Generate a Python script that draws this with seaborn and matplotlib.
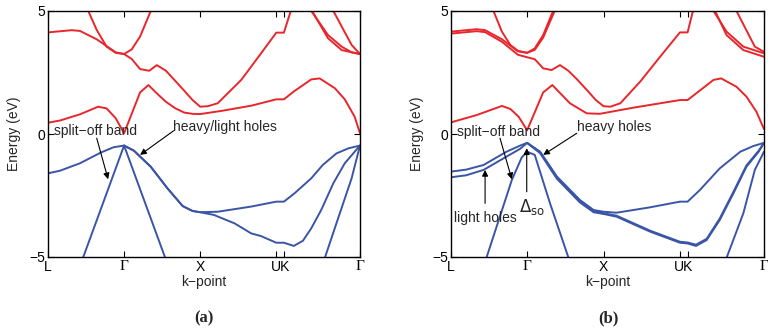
import numpy as np
import pandas as pd
import matplotlib
matplotlib.use("Agg")
import matplotlib.pyplot as plt
import seaborn as sns

# ---------------- data ----------------
kticks = [0, 1, 2, 3, 3.1, 4.1]
klabels = ["L", "\u0393", "X", "", "", "\u0393"]
uk_pos = [3.05]
uk_label = ["UK"]

# Panel (a): conduction bands
a_cb1_k = [0, 0.16, 0.42, 0.66, 0.77, 0.89, 1.0, 1.21, 1.32, 1.43, 1.55, 1.67, 1.79, 1.90, 2.0, 2.3, 2.67, 3.0, 3.1, 3.24, 3.46, 3.57, 3.77, 3.90, 4.03, 4.1]
a_cb1_E = [0.46, 0.55, 0.80, 1.11, 1.04, 0.64, 0.03, 1.69, 1.99, 1.65, 1.31, 1.05, 0.87, 0.82, 0.81, 0.95, 1.15, 1.41, 1.41, 1.75, 2.22, 2.26, 1.86, 1.41, 0.70, 0.03]
a_cb2_k = [0, 0.31, 0.42, 0.64, 0.89, 1.0, 1.10, 1.21, 1.33, 1.43, 1.55, 1.66, 1.79, 1.90, 2.0, 2.1, 2.23, 2.54, 2.80, 3.0, 3.1, 3.19, 3.25]
a_cb2_E = [4.13, 4.22, 4.19, 3.85, 3.32, 3.25, 3.05, 2.64, 2.57, 2.80, 2.57, 2.20, 1.76, 1.38, 1.11, 1.13, 1.25, 2.20, 3.28, 4.12, 4.12, 5.0, 5.6]
a_cb3_k = [0.50, 0.53, 0.64, 0.77, 0.89, 1.0, 1.10, 1.21, 1.35, 1.38]
a_cb3_E = [5.4, 5.0, 4.23, 3.55, 3.30, 3.25, 3.44, 3.96, 5.0, 5.3]
a_cb4_k = [3.44, 3.46, 3.68, 3.86, 3.99, 4.1]
a_cb4_E = [5.3, 5.0, 4.02, 3.55, 3.32, 3.25]
a_cb5_k = [3.45, 3.47, 3.68, 3.86, 4.1]
a_cb5_E = [5.3, 5.0, 3.89, 3.41, 3.25]
a_cb6_k = [3.73, 3.75, 3.99, 4.1]
a_cb6_E = [5.3, 5.0, 3.62, 3.25]

# Panel (a): valence bands
a_vb1_k = [0, 0.16, 0.42, 0.69, 0.86, 1.0, 1.13, 1.35, 1.57, 1.77, 1.90, 2.0, 2.23, 2.67, 3.0, 3.1, 3.24, 3.46, 3.61, 3.79, 3.95, 4.1]
a_vb1_E = [-1.60, -1.49, -1.19, -0.76, -0.54, -0.47, -0.68, -1.33, -2.21, -2.93, -3.13, -3.18, -3.16, -2.95, -2.75, -2.75, -2.41, -1.80, -1.26, -0.79, -0.58, -0.47]
a_vb2_k = [1.0, 1.13, 1.35, 1.57, 1.77, 1.90, 2.0, 2.18, 2.45, 2.67, 2.80, 3.0, 3.1, 3.23, 3.35, 3.46, 3.59, 3.75, 3.90, 4.03, 4.1]
a_vb2_E = [-0.47, -0.68, -1.33, -2.21, -2.93, -3.13, -3.18, -3.29, -3.63, -4.04, -4.15, -4.42, -4.42, -4.55, -4.34, -3.83, -3.09, -2.0, -1.19, -0.72, -0.47]
a_so1_k = [0.44, 1.0, 1.56]
a_so1_E = [-5.2, -0.47, -5.2]
a_so2_k = [3.62, 3.81, 3.99, 4.06, 4.1]
a_so2_E = [-5.2, -3.45, -1.80, -0.95, -0.47]

# Panel (b): conduction bands
b_cb1_k = [0, 0.34, 0.67, 0.78, 0.89, 1.0, 1.21, 1.33, 1.56, 1.78, 1.95, 2.39, 3.0, 3.1, 3.44, 3.54, 3.74, 3.87, 4.0, 4.1]
b_cb1_E = [0.47, 0.77, 1.14, 1.02, 0.70, 0.15, 1.69, 1.99, 1.25, 0.84, 0.82, 1.07, 1.38, 1.38, 2.20, 2.26, 1.92, 1.52, 0.91, 0.20]
b_cb2_k = [0, 0.34, 0.45, 0.67, 0.88, 1.0, 1.10, 1.21, 1.34, 1.37]
b_cb2_E = [4.16, 4.26, 4.22, 3.85, 3.36, 3.30, 3.48, 4.02, 5.0, 5.3]
b_cb3_k = [0, 0.34, 0.45, 0.67, 0.88, 1.0, 1.10, 1.21, 1.32, 1.43, 1.54, 1.66, 1.79, 1.90, 2.0, 2.09, 2.22, 2.48, 2.74, 3.0, 3.1, 3.17, 3.22]
b_cb3_E = [4.08, 4.18, 4.14, 3.75, 3.22, 3.12, 3.04, 2.67, 2.60, 2.80, 2.57, 2.20, 1.76, 1.38, 1.13, 1.11, 1.25, 2.13, 3.14, 4.13, 4.13, 5.0, 5.6]
b_cb4_k = [0.53, 0.56, 0.67, 0.78, 0.88, 1.0, 1.10, 1.21, 1.36, 1.39]
b_cb4_E = [5.3, 5.0, 4.16, 3.62, 3.38, 3.30, 3.42, 3.92, 5.0, 5.3]
b_cb5_k = [3.42, 3.44, 3.61, 3.83, 4.1]
b_cb5_E = [5.3, 5.0, 4.16, 3.55, 3.28]
b_cb6_k = [3.43, 3.46, 3.61, 3.83, 4.1]
b_cb6_E = [5.3, 5.0, 4.02, 3.41, 3.14]
b_cb7_k = [3.72, 3.74, 3.98, 4.1]
b_cb7_E = [5.3, 5.0, 3.55, 3.34]

# Panel (b): valence bands
b_vb1_k = [0, 0.2, 0.43, 0.73, 0.91, 1.0, 1.17, 1.39, 1.69, 1.87, 2.0, 2.17, 2.61, 3.0, 3.1, 3.26, 3.52, 3.79, 3.96, 4.1]
b_vb1_E = [-1.53, -1.45, -1.26, -0.72, -0.47, -0.36, -0.72, -1.73, -2.68, -3.09, -3.16, -3.20, -2.98, -2.75, -2.75, -2.28, -1.40, -0.72, -0.49, -0.36]
b_vb2_k = [0, 0.2, 0.43, 0.73, 0.91, 1.0, 1.17, 1.39, 1.69, 1.87, 2.0, 2.17, 2.61, 3.0, 3.1, 3.21, 3.35, 3.52, 3.70, 3.87, 4.03, 4.1]
b_vb2_E = [-1.76, -1.68, -1.46, -0.92, -0.60, -0.36, -0.78, -1.82, -2.78, -3.18, -3.25, -3.36, -3.97, -4.42, -4.45, -4.55, -4.31, -3.50, -2.41, -1.33, -0.72, -0.36]
b_vb3_k = [1.0, 1.17, 1.39, 1.69, 1.87, 2.0, 2.17, 2.61, 3.0, 3.1, 3.21, 3.35, 3.52, 3.70, 3.87, 4.03, 4.1]
b_vb3_E = [-0.36, -0.74, -1.77, -2.72, -3.13, -3.22, -3.32, -3.93, -4.38, -4.41, -4.50, -4.26, -3.44, -2.35, -1.28, -0.68, -0.36]
b_so1_k = [0.45, 0.80, 0.93, 1.0, 1.10, 1.30, 1.56]
b_so1_E = [-5.2, -1.87, -0.95, -0.72, -0.85, -2.82, -5.2]
b_so2_k = [3.59, 3.83, 3.98, 4.1]
b_so2_E = [-5.2, -3.22, -1.46, -0.72]

RED = "#E8262B"
BLUE = "#3A55A6"

# ---------------- style ----------------
sns.set_style("ticks")
plt.rcParams["font.family"] = ["Liberation Sans", "DejaVu Sans"]
plt.rcParams["axes.edgecolor"] = "black"
plt.rcParams["xtick.color"] = "black"
plt.rcParams["ytick.color"] = "black"

fig = plt.figure(figsize=(7.68, 3.35), dpi=100)
axA = fig.add_axes([48 / 768, 78 / 335, 312 / 768, 246 / 335])
axB = fig.add_axes([450.7 / 768, 78 / 335, 313.3 / 768, 246 / 335])


def draw(ax, bands, color):
    rows = []
    for name, (k, E) in bands.items():
        for kk, ee in zip(k, E):
            rows.append({"k": kk, "E": ee, "band": name})
    df = pd.DataFrame(rows)
    sns.lineplot(data=df, x="k", y="E", units="band", estimator=None, sort=False,
                 color=color, lw=1.4, ax=ax, legend=False)


draw(axA, {"c1": (a_cb1_k, a_cb1_E), "c2": (a_cb2_k, a_cb2_E), "c3": (a_cb3_k, a_cb3_E),
           "c4": (a_cb4_k, a_cb4_E), "c5": (a_cb5_k, a_cb5_E), "c6": (a_cb6_k, a_cb6_E)}, RED)
draw(axA, {"v1": (a_vb1_k, a_vb1_E), "v2": (a_vb2_k, a_vb2_E),
           "s1": (a_so1_k, a_so1_E), "s2": (a_so2_k, a_so2_E)}, BLUE)
draw(axB, {"c1": (b_cb1_k, b_cb1_E), "c2": (b_cb2_k, b_cb2_E), "c3": (b_cb3_k, b_cb3_E),
           "c4": (b_cb4_k, b_cb4_E), "c5": (b_cb5_k, b_cb5_E), "c6": (b_cb6_k, b_cb6_E),
           "c7": (b_cb7_k, b_cb7_E)}, RED)
draw(axB, {"v1": (b_vb1_k, b_vb1_E), "v2": (b_vb2_k, b_vb2_E), "v3": (b_vb3_k, b_vb3_E),
           "s1": (b_so1_k, b_so1_E), "s2": (b_so2_k, b_so2_E)}, BLUE)

for ax in (axA, axB):
    ax.set_xlim(0, 4.1)
    ax.set_ylim(-5, 5)
    ax.set_xticks(kticks)
    ax.set_xticklabels(klabels)
    ax.set_xticks(uk_pos, minor=True)
    ax.set_xticklabels(uk_label, minor=True)
    ax.set_yticks([-5, 0, 5])
    ax.tick_params(which="major", direction="in", length=4, width=0.8, top=True, right=True,
                   labelsize=10, pad=2)
    ax.tick_params(which="minor", direction="in", length=0, labelsize=10, pad=2)
    for lab in ax.get_xticklabels():
        if lab.get_text() == "\u0393":
            lab.set_fontfamily("Liberation Serif")
            lab.set_fontsize(11)
    for s in ax.spines.values():
        s.set_visible(True)
        s.set_linewidth(1.0)
        s.set_color("black")
    ax.set_xlabel("k\u2212point", fontsize=10, labelpad=1)
    ax.set_ylabel("Energy (eV)", fontsize=10, labelpad=6)

arrow = dict(arrowstyle="-|>", color="black", lw=0.8, mutation_scale=9, shrinkA=0, shrinkB=0)
# panel (a)
axA.text(0.62, 0.12, "split\u2212off band", ha="center", va="center", fontsize=10)
axA.annotate("", xy=(0.79, -1.84), xytext=(0.64, -0.17), arrowprops=arrow)
axA.text(2.33, 0.28, "heavy/light holes", ha="center", va="center", fontsize=10)
axA.annotate("", xy=(1.21, -0.85), xytext=(1.65, 0.13), arrowprops=arrow)
# panel (b)
axB.text(0.63, 0.08, "split\u2212off band", ha="center", va="center", fontsize=10)
axB.annotate("", xy=(0.80, -1.84), xytext=(0.645, -0.17), arrowprops=arrow)
axB.text(2.14, 0.30, "heavy holes", ha="center", va="center", fontsize=10)
axB.annotate("", xy=(1.21, -0.85), xytext=(1.65, 0.03), arrowprops=arrow)
axB.text(0.45, -3.43, "light holes", ha="center", va="center", fontsize=10)
axB.annotate("", xy=(0.45, -1.46), xytext=(0.45, -2.82), arrowprops=arrow)
axB.text(1.06, -2.95, r"$\Delta_{\rm so}$", ha="center", va="center", fontsize=12)
axB.annotate("", xy=(0.995, -0.58), xytext=(0.995, -2.35), arrowprops=arrow)

fig.text(204 / 768, 1 - 318 / 335, "(a)", ha="center", va="center", fontsize=12,
         fontweight="bold", family="Liberation Serif")
fig.text(608 / 768, 1 - 318 / 335, "(b)", ha="center", va="center", fontsize=12,
         fontweight="bold", family="Liberation Serif")

fig.savefig("out.png", dpi=100)
